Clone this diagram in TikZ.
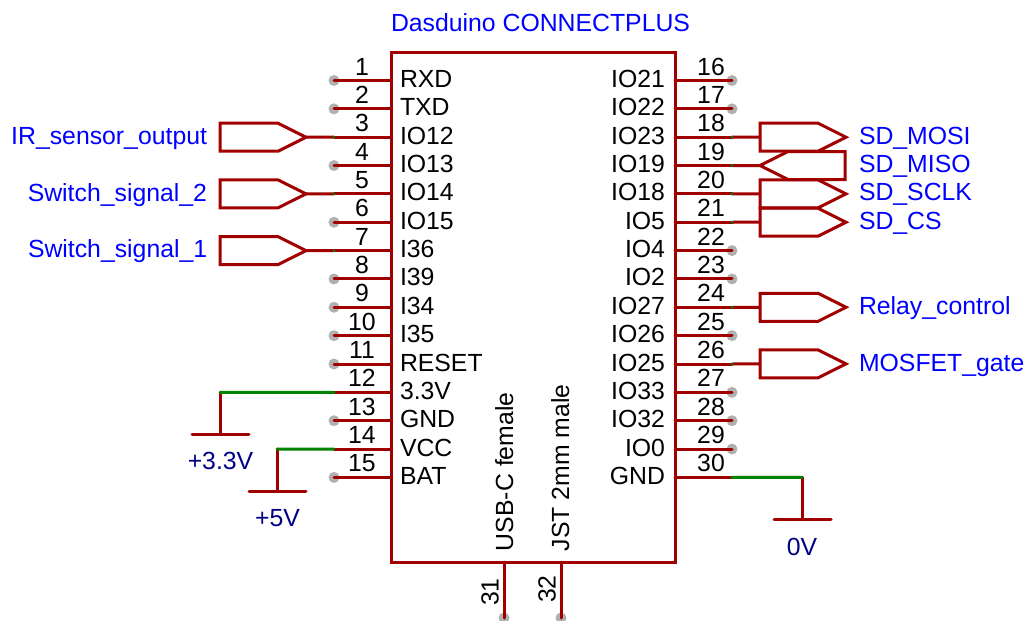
\documentclass[tikz,border=0pt]{standalone}
\usepackage{fontspec}
\setmainfont{Liberation Sans}
\definecolor{wirered}{HTML}{A00000}
\definecolor{netgreen}{HTML}{008400}
\definecolor{dotgray}{HTML}{B0B0B0}
\definecolor{labblue}{HTML}{0000FF}
\definecolor{pwrblue}{HTML}{000084}
\tikzset{
  schtext/.style={inner sep=0pt,outer sep=0pt,font=\fontsize{24.8}{28}\selectfont},
  pinname/.style={schtext,text=black},
  pinnum/.style={schtext,text=black,anchor=base},
  netlabel/.style={schtext,text=labblue},
  pwrlabel/.style={schtext,text=pwrblue,anchor=base},
  redline/.style={draw=wirered,line width=3pt,line cap=round,line join=miter},
  greenline/.style={draw=netgreen,line width=3pt,line cap=round},
  opendot/.style={fill=dotgray,draw=none},
}
\newcommand{\pinrow}[1]{\pgfmathsetmacro{\py}{-80.5-28.35*(#1-1)}}
% port pointing right: left edge at #1, centre y #2, name #3
\newcommand{\portright}[3]{%
  \coordinate (#3-in) at (#1,#2);
  \coordinate (#3-tip) at (#1+86,#2);
  \draw[redline] (#1,#2+14) -- (#1+58,#2+14) -- (#3-tip) -- (#1+58,#2-14) -- (#1,#2-14) -- cycle;
}
% port pointing left: tip at #1
\newcommand{\portleft}[3]{%
  \coordinate (#3-tip) at (#1,#2);
  \draw[redline] (#3-tip) -- (#1+28,#2+14) -- (#1+85,#2+14) -- (#1+85,#2-14) -- (#1+28,#2-14) -- cycle;
}
\begin{document}
\begin{tikzpicture}[x=1pt,y=1pt]
\useasboundingbox (0,0) rectangle (1026,-621);
\fill[white] (0,0) rectangle (1026,-621);

% left pins
\foreach \n/\lab/\open in {1/RXD/1,2/TXD/1,3/IO12/0,4/IO13/1,5/IO14/0,6/IO15/1,7/I36/0,8/I39/1,9/I34/1,10/I35/1,11/RESET/1,12/3.3V/0,13/GND/1,14/VCC/0,15/BAT/1}{
  \pinrow{\n}
  \coordinate (L\n) at (391,\py);
  \coordinate (LE\n) at (334,\py);
  \ifnum\open=1 \fill[opendot] (LE\n) circle[radius=5.5pt]; \fi
  \draw[redline] (L\n) -- (LE\n);
  \node[pinnum] (nl\n) at (362,\py+5.5) {\n};
  \node[pinname,anchor=base west] (tl\n) at (400,\py-7) {\lab};
}
% right pins
\foreach \n/\lab/\open [count=\i] in {16/IO21/1,17/IO22/1,18/IO23/0,19/IO19/0,20/IO18/0,21/IO5/0,22/IO4/1,23/IO2/1,24/IO27/0,25/IO26/1,26/IO25/0,27/IO33/1,28/IO32/1,29/IO0/1,30/GND/0}{
  \pinrow{\i}
  \coordinate (R\n) at (675,\py);
  \coordinate (RE\n) at (732,\py);
  \ifnum\open=1 \fill[opendot] (RE\n) circle[radius=5.5pt]; \fi
  \draw[redline] (R\n) -- (RE\n);
  \node[pinnum] (nr\n) at (711,\py+5.5) {\n};
  \node[pinname,anchor=base east] (tr\n) at (665,\py-7) {\lab};
}
% bottom pins
\coordinate (B31) at (504,-562); \coordinate (BE31) at (504,-618);
\coordinate (B32) at (561,-562); \coordinate (BE32) at (561,-618);
\fill[opendot] (BE31) circle[radius=5.5pt];
\fill[opendot] (BE32) circle[radius=5.5pt];
\draw[redline] (B31) -- (BE31);
\draw[redline] (B32) -- (BE32);
\node[pinnum,rotate=90] (n31) at (498.5,-592) {31};
\node[pinnum,rotate=90] (n32) at (555.5,-589) {32};
\node[pinname,rotate=90,anchor=base west] (usb) at (513,-551) {USB-C female};
\node[pinname,rotate=90,anchor=base west] (jst) at (569,-551) {JST 2mm male};

% chip body
\draw[redline,line cap=butt] (391,-52) rectangle (675,-562);
\node[netlabel,anchor=base west] (title) at (391,-31) {Dasduino CONNECTPLUS};

% left ports
\portright{220}{-137.2}{ir}
\portright{220}{-193.9}{sw2}
\portright{220}{-250.6}{sw1}
\draw[redline] (ir-tip) -- (LE3);
\draw[redline] (sw2-tip) -- (LE5);
\draw[redline] (sw1-tip) -- (LE7);
\foreach \c in {LE3,LE5,LE7}{\fill[netgreen] (\c) circle[radius=1.5pt];}
\node[netlabel,anchor=base east] (lir) at (207,-144) {IR\_sensor\_output};
\node[netlabel,anchor=base east] (lsw2) at (207,-201) {Switch\_signal\_2};
\node[netlabel,anchor=base west] (lsw1) at (28,-257) {Switch\_signal\_1};

% right ports
\portright{760}{-137.2}{mosi}
\portleft{760}{-165.5}{miso}
\portright{760}{-193.9}{sclk}
\portright{760}{-222.2}{cs}
\portright{760}{-307.3}{relay}
\portright{760}{-363.9}{gate}
\draw[redline] (RE18) -- (mosi-in);
\draw[redline] (RE19) -- (miso-tip);
\draw[redline] (RE20) -- (sclk-in);
\draw[redline] (RE21) -- (cs-in);
\draw[redline] (RE24) -- (relay-in);
\draw[redline] (RE26) -- (gate-in);
\foreach \c in {RE18,RE19,RE20,RE21,RE24,RE26}{\fill[netgreen] (\c) circle[radius=1.5pt];}
\node[netlabel,anchor=base west] (lmosi) at (859,-144) {SD\_MOSI};
\node[netlabel,anchor=base west] (lmiso) at (859,-172) {SD\_MISO};
\node[netlabel,anchor=base west] (lsclk) at (859,-200) {SD\_SCLK};
\node[netlabel,anchor=base west] (lcs) at (859,-229) {SD\_CS};
\node[netlabel,anchor=base west] (lrelay) at (859,-314) {Relay\_control};
\node[netlabel,anchor=base west] (lgate) at (859,-371) {MOSFET\_gate};

% power symbols
\coordinate (p33a) at (220,-392.4); \coordinate (p33b) at (220,-434.5);
\coordinate (p33l) at (192,-434.5); \coordinate (p33r) at (249,-434.5);
\draw[redline] (p33a) -- (p33b);
\draw[redline] (p33l) -- (p33r);
\draw[greenline] (LE12) -- (p33a);
\node[pwrlabel] (l33) at (220.5,-469) {+3.3V};

\coordinate (p5a) at (277,-449); \coordinate (p5b) at (277,-491.5);
\coordinate (p5l) at (249,-491.5); \coordinate (p5r) at (306,-491.5);
\draw[redline] (p5a) -- (p5b);
\draw[redline] (p5l) -- (p5r);
\draw[greenline] (LE14) -- (p5a);
\node[pwrlabel] (l5) at (277.5,-526) {+5V};

\coordinate (p0a) at (802,-477.4); \coordinate (p0b) at (802,-519.5);
\coordinate (p0l) at (774,-519.5); \coordinate (p0r) at (831,-519.5);
\draw[redline] (p0a) -- (p0b);
\draw[redline] (p0l) -- (p0r);
\draw[greenline] (RE30) -- (p0a);
\node[pwrlabel] (l0) at (802,-555) {0V};
\end{tikzpicture}
\end{document}
